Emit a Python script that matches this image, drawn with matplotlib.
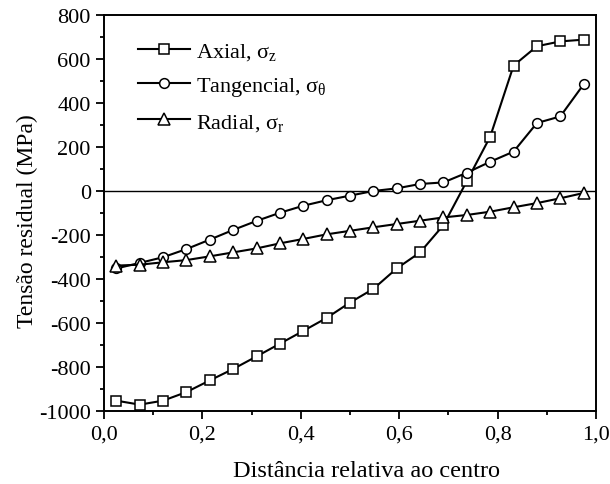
import numpy as np
import matplotlib
matplotlib.use('Agg')
import matplotlib.pyplot as plt
from matplotlib.ticker import MultipleLocator, FuncFormatter

plt.rcParams['font.family'] = 'Liberation Serif'
plt.rcParams['mathtext.fontset'] = 'custom'
plt.rcParams['mathtext.rm'] = 'Liberation Serif'
plt.rcParams['mathtext.it'] = 'Liberation Serif'

# relative distance from the centre (21 points)
dist = [0.025, 0.0725, 0.12, 0.1675, 0.215, 0.2625, 0.31, 0.3575, 0.405, 0.4525,
        0.50, 0.5475, 0.595, 0.6425, 0.69, 0.7375, 0.785, 0.8325, 0.88, 0.9275, 0.975]

# residual stresses (MPa)
axial = [-953, -971, -953, -914, -861, -809, -752, -694, -636, -577,
         -507, -445, -352, -279, -155, 45, 247, 570, 658, 680, 688]
tangencial = [-352, -327, -301, -264, -221, -177, -136, -99, -67, -42,
              -21, 0, 12, 32, 39, 83, 133, 179, 309, 339, 485]
radial = [-339, -335, -324, -314, -297, -279, -261, -238, -218, -197,
          -181, -165, -150, -135, -120, -109, -94, -74, -55, -33, -9]

fig = plt.figure(figsize=(6.1, 4.85), dpi=100)
ax = fig.add_axes([0.1705, 0.1505, 0.8065, 0.8165])

style = dict(color='black', lw=1.5, mfc='white', mec='black', mew=1.1)
ax.plot(dist, axial, marker='s', ms=7, label=r'Axial, $\sigma_z$', **style)
ax.plot(dist, tangencial, marker='o', ms=7, label=r'Tangencial, $\sigma_\theta$', **style)
ax.plot(dist, radial, marker='^', ms=8, label=r'Radial, $\sigma_r$', **style)
ax.axhline(0, color='black', lw=1.0, zorder=0)

ax.set_xlim(0, 1.0)
ax.set_ylim(-1000, 800)
ax.xaxis.set_major_locator(MultipleLocator(0.2))
ax.xaxis.set_minor_locator(MultipleLocator(0.1))
ax.yaxis.set_major_locator(MultipleLocator(200))
ax.yaxis.set_minor_locator(MultipleLocator(100))
ax.xaxis.set_major_formatter(FuncFormatter(lambda v, p: f'{v:.1f}'.replace('.', ',')))
ax.yaxis.set_major_formatter(FuncFormatter(lambda v, p: f'{v:.0f}'))

ax.tick_params(which='major', direction='out', length=5.5, width=1.3, labelsize=16,
               pad=4, top=False, right=False)
ax.tick_params(which='minor', direction='out', length=3, width=1.3,
               top=False, right=False)
for s in ax.spines.values():
    s.set_linewidth(1.4)

ax.set_xlabel('Distância relativa ao centro', fontsize=17.5)
ax.xaxis.set_label_coords(0.533, -0.123)
ax.set_ylabel('Tensão residual (MPa)', fontsize=17)
ax.yaxis.set_label_coords(-0.135, 0.482)

leg = ax.legend(loc='upper left', bbox_to_anchor=(0.051, 0.957), borderaxespad=0,
                frameon=False, fontsize=16, handlelength=2.35,
                handletextpad=0.25, labelspacing=0.6)

fig.savefig('out.png', dpi=100)
